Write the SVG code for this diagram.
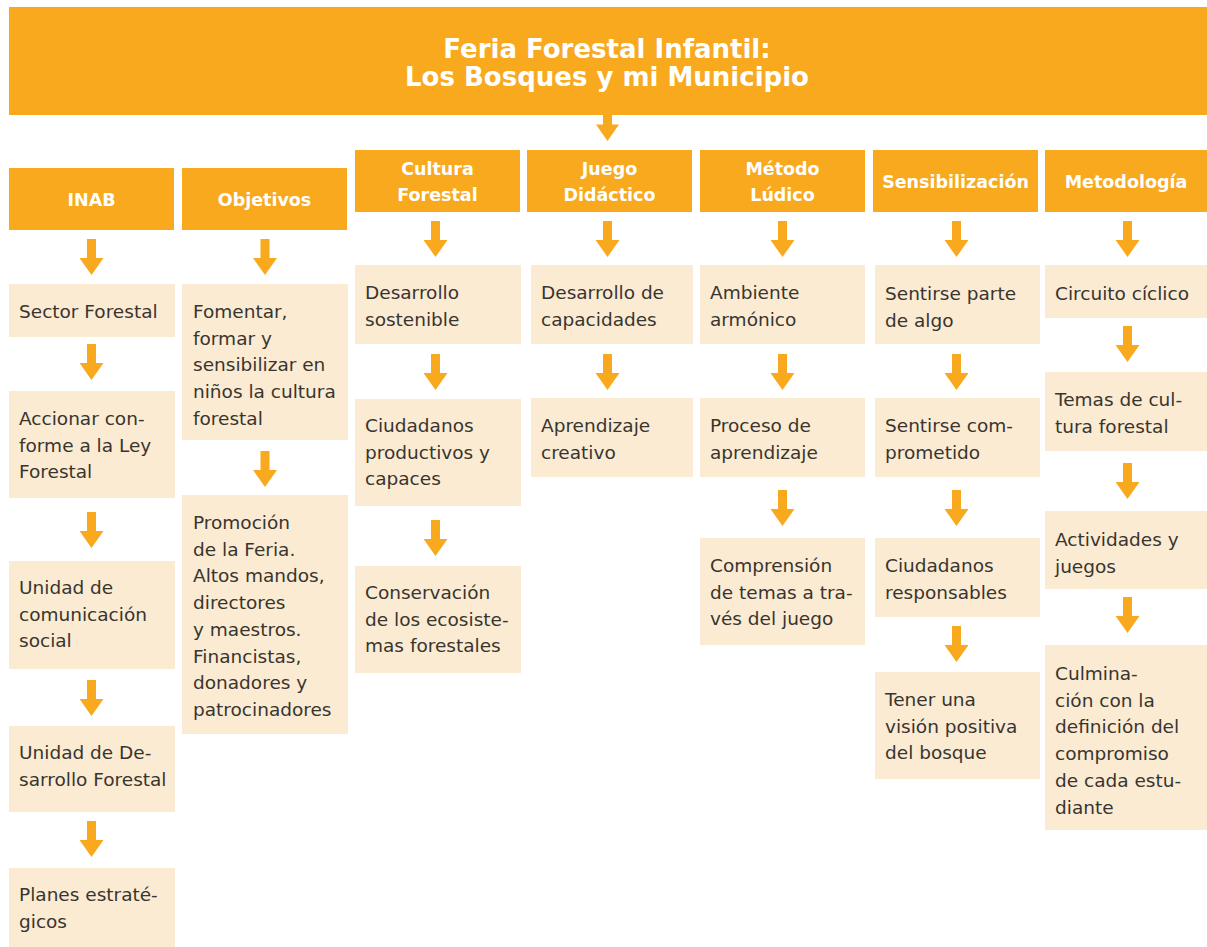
<svg xmlns="http://www.w3.org/2000/svg" xmlns:xlink="http://www.w3.org/1999/xlink" width="1207" height="947" viewBox="0 0 1207 947">
<style>
.hd{fill:#F8A91E}
.bx{fill:#FCEBD3}
.ht{font-family:"DejaVu Sans","Liberation Sans",sans-serif;font-weight:bold;font-size:17.5px;fill:#FFFFFF;text-anchor:middle}
.tt{font-family:"DejaVu Sans","Liberation Sans",sans-serif;font-weight:bold;font-size:26px;fill:#FFFFFF;text-anchor:middle}
.ct{font-family:"DejaVu Sans","Liberation Sans",sans-serif;font-size:18.5px;fill:#38352F}
.ar{fill:#F8A91E}
</style>
<defs>
<path id="arrow" d="M-4.5,0 H4.5 V19 H12 L0,36 L-12,19 H-4.5 Z"/>
</defs>
<rect width="1207" height="947" fill="#FFFFFF"/>

<g id="title">
<rect class="hd" x="9" y="7" width="1198" height="108"/>
<text class="tt" x="607" y="58">Feria Forestal Infantil:</text>
<text class="tt" x="607" y="86">Los Bosques y mi Municipio</text>
</g>

<g id="connectors" class="ar">
<path d="M603,115 H612 V124.5 H619 L607.5,141 L596,124.5 H603 Z"/>
<use xlink:href="#arrow" x="91.5" y="239"/>
<use xlink:href="#arrow" x="91.5" y="344"/>
<use xlink:href="#arrow" x="91.5" y="512"/>
<use xlink:href="#arrow" x="91.5" y="680"/>
<use xlink:href="#arrow" x="91.5" y="821"/>
<use xlink:href="#arrow" x="265" y="239"/>
<use xlink:href="#arrow" x="265" y="451"/>
<use xlink:href="#arrow" x="435.5" y="221"/>
<use xlink:href="#arrow" x="435.5" y="354"/>
<use xlink:href="#arrow" x="435.5" y="520"/>
<use xlink:href="#arrow" x="607.5" y="221"/>
<use xlink:href="#arrow" x="607.5" y="354"/>
<use xlink:href="#arrow" x="782.5" y="221"/>
<use xlink:href="#arrow" x="782.5" y="354"/>
<use xlink:href="#arrow" x="782.5" y="490"/>
<use xlink:href="#arrow" x="956.5" y="221"/>
<use xlink:href="#arrow" x="956.5" y="354"/>
<use xlink:href="#arrow" x="956.5" y="490"/>
<use xlink:href="#arrow" x="956.5" y="626"/>
<use xlink:href="#arrow" x="1127.5" y="221"/>
<use xlink:href="#arrow" x="1127.5" y="326"/>
<use xlink:href="#arrow" x="1127.5" y="463"/>
<use xlink:href="#arrow" x="1127.5" y="597"/>
</g>

<g id="h-inab"><rect class="hd" x="9" y="168" width="165" height="62"/><text class="ht" x="91.5" y="206">INAB</text></g>
<g id="h-objetivos"><rect class="hd" x="182" y="168" width="165" height="62"/><text class="ht" x="264.5" y="206">Objetivos</text></g>
<g id="h-cultura"><rect class="hd" x="355" y="150" width="165" height="62"/><text class="ht" x="437.5" y="175">Cultura<tspan x="437.5" dy="25.7">Forestal</tspan></text></g>
<g id="h-juego"><rect class="hd" x="527" y="150" width="165" height="62"/><text class="ht" x="609.5" y="175">Juego<tspan x="609.5" dy="25.7">Didáctico</tspan></text></g>
<g id="h-metodo"><rect class="hd" x="700" y="150" width="165" height="62"/><text class="ht" x="782.5" y="175">Método<tspan x="782.5" dy="25.7">Lúdico</tspan></text></g>
<g id="h-sensibilizacion"><rect class="hd" x="873" y="150" width="165" height="62"/><text class="ht" x="955.5" y="188">Sensibilización</text></g>
<g id="h-metodologia"><rect class="hd" x="1045" y="150" width="162" height="62"/><text class="ht" x="1126" y="188">Metodología</text></g>

<g id="n-sector"><rect class="bx" x="9" y="284" width="166" height="53"/><text class="ct" x="19" y="318">Sector Forestal</text></g>
<g id="n-accionar"><rect class="bx" x="9" y="391" width="166" height="107"/><text class="ct" x="19" y="425">Accionar con-<tspan x="19" dy="26.7">forme a la Ley</tspan><tspan x="19" dy="26.7">Forestal</tspan></text></g>
<g id="n-comunicacion"><rect class="bx" x="9" y="561" width="166" height="108"/><text class="ct" x="19" y="594">Unidad de<tspan x="19" dy="26.7">comunicación</tspan><tspan x="19" dy="26.7">social</tspan></text></g>
<g id="n-desarrollo-forestal"><rect class="bx" x="9" y="726" width="166" height="86"/><text class="ct" x="19" y="759">Unidad de De-<tspan x="19" dy="26.7">sarrollo Forestal</tspan></text></g>
<g id="n-planes"><rect class="bx" x="9" y="868" width="166" height="79"/><text class="ct" x="19" y="901">Planes estraté-<tspan x="19" dy="26.7">gicos</tspan></text></g>

<g id="n-fomentar"><rect class="bx" x="182" y="284" width="166" height="156"/><text class="ct" x="193" y="318">Fomentar,<tspan x="193" dy="26.7">formar y</tspan><tspan x="193" dy="26.7">sensibilizar en</tspan><tspan x="193" dy="26.7">niños la cultura</tspan><tspan x="193" dy="26.7">forestal</tspan></text></g>
<g id="n-promocion"><rect class="bx" x="182" y="495" width="166" height="239"/><text class="ct" x="193" y="529">Promoción<tspan x="193" dy="26.7">de la Feria.</tspan><tspan x="193" dy="26.7">Altos mandos,</tspan><tspan x="193" dy="26.7">directores</tspan><tspan x="193" dy="26.7">y maestros.</tspan><tspan x="193" dy="26.7">Financistas,</tspan><tspan x="193" dy="26.7">donadores y</tspan><tspan x="193" dy="26.7">patrocinadores</tspan></text></g>

<g id="n-sostenible"><rect class="bx" x="355" y="265" width="166" height="79"/><text class="ct" x="365" y="299">Desarrollo<tspan x="365" dy="26.7">sostenible</tspan></text></g>
<g id="n-ciudadanos-productivos"><rect class="bx" x="355" y="399" width="166" height="107"/><text class="ct" x="365" y="432">Ciudadanos<tspan x="365" dy="26.7">productivos y</tspan><tspan x="365" dy="26.7">capaces</tspan></text></g>
<g id="n-conservacion"><rect class="bx" x="355" y="566" width="166" height="107"/><text class="ct" x="365" y="599">Conservación<tspan x="365" dy="26.7">de los ecosiste-</tspan><tspan x="365" dy="26.7">mas forestales</tspan></text></g>

<g id="n-capacidades"><rect class="bx" x="531" y="265" width="162" height="79"/><text class="ct" x="541" y="299">Desarrollo de<tspan x="541" dy="26.7">capacidades</tspan></text></g>
<g id="n-aprendizaje-creativo"><rect class="bx" x="531" y="398" width="162" height="79"/><text class="ct" x="541" y="432">Aprendizaje<tspan x="541" dy="26.7">creativo</tspan></text></g>

<g id="n-ambiente"><rect class="bx" x="700" y="265" width="165" height="79"/><text class="ct" x="710" y="299">Ambiente<tspan x="710" dy="26.7">armónico</tspan></text></g>
<g id="n-proceso"><rect class="bx" x="700" y="398" width="165" height="79"/><text class="ct" x="710" y="432">Proceso de<tspan x="710" dy="26.7">aprendizaje</tspan></text></g>
<g id="n-comprension"><rect class="bx" x="700" y="538" width="165" height="107"/><text class="ct" x="710" y="572">Comprensión<tspan x="710" dy="26.7">de temas a tra-</tspan><tspan x="710" dy="26.7">vés del juego</tspan></text></g>

<g id="n-sentirse-parte"><rect class="bx" x="875" y="265" width="165" height="79"/><text class="ct" x="885" y="300">Sentirse parte<tspan x="885" dy="26.7">de algo</tspan></text></g>
<g id="n-comprometido"><rect class="bx" x="875" y="398" width="165" height="79"/><text class="ct" x="885" y="432">Sentirse com-<tspan x="885" dy="26.7">prometido</tspan></text></g>
<g id="n-responsables"><rect class="bx" x="875" y="538" width="165" height="79"/><text class="ct" x="885" y="572">Ciudadanos<tspan x="885" dy="26.7">responsables</tspan></text></g>
<g id="n-vision"><rect class="bx" x="875" y="672" width="165" height="107"/><text class="ct" x="885" y="706">Tener una<tspan x="885" dy="26.7">visión positiva</tspan><tspan x="885" dy="26.7">del bosque</tspan></text></g>

<g id="n-circuito"><rect class="bx" x="1045" y="265" width="162" height="53"/><text class="ct" x="1055" y="300">Circuito cíclico</text></g>
<g id="n-temas"><rect class="bx" x="1045" y="372" width="162" height="79"/><text class="ct" x="1055" y="406">Temas de cul-<tspan x="1055" dy="26.7">tura forestal</tspan></text></g>
<g id="n-actividades"><rect class="bx" x="1045" y="511" width="162" height="78"/><text class="ct" x="1055" y="546">Actividades y<tspan x="1055" dy="26.7">juegos</tspan></text></g>
<g id="n-culminacion"><rect class="bx" x="1045" y="645" width="162" height="185"/><text class="ct" x="1055" y="680">Culmina-<tspan x="1055" dy="26.7">ción con la</tspan><tspan x="1055" dy="26.7">definición del</tspan><tspan x="1055" dy="26.7">compromiso</tspan><tspan x="1055" dy="26.7">de cada estu-</tspan><tspan x="1055" dy="26.7">diante</tspan></text></g>
</svg>
